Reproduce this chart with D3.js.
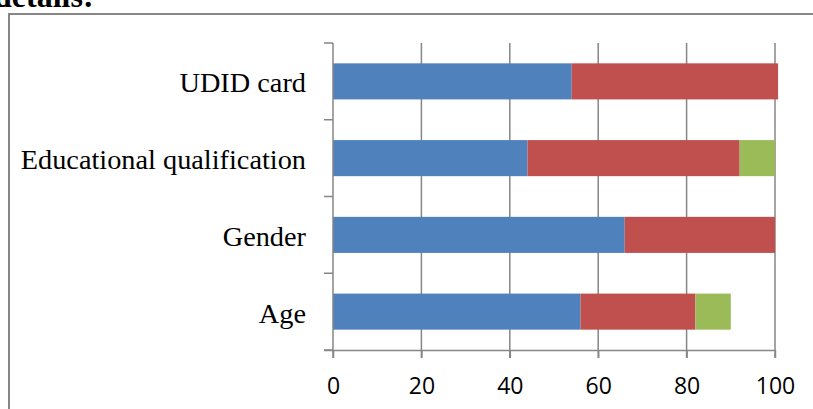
<!DOCTYPE html>
<html>
<head>
<meta charset="utf-8">
<script src="https://cdn.jsdelivr.net/npm/d3@7/dist/d3.min.js"></script>
<style>
  html, body { margin: 0; padding: 0; background: #fff; }
  svg { display: block; }
</style>
</head>
<body>
<svg id="chart" width="813" height="409"></svg>
<script>
// Categories listed bottom to top
const categories = ["Age", "Gender", "Educational qualification", "UDID card"];
// Stacked series (percent)
const seriesA = [56, 66, 44, 54];
const seriesB = [26, 34, 48, 46.7];
const seriesC = [8, 0, 8, 0];
const xTicks = [0, 20, 40, 60, 80, 100];

const colors = ["#4F81BD", "#C0504D", "#9BBB59"];
const gridColor = "#868686";

const svg = d3.select("#chart");

// Heading line above the chart frame (partly outside the page)
svg.append("text")
  .attr("x", -6).attr("y", 7)
  .attr("font-family", "'Liberation Serif', 'Times New Roman', serif")
  .attr("font-weight", "bold")
  .attr("font-size", 32)
  .attr("fill", "#000")
  .text("details:");

// Chart frame
svg.append("rect")
  .attr("x", 9).attr("y", 14)
  .attr("width", 840).attr("height", 440)
  .attr("fill", "none")
  .attr("stroke", "#878787")
  .attr("stroke-width", 2);

const plot = { left: 333, right: 775, top: 43, bottom: 350 };

const x = d3.scaleLinear().domain([0, 100]).range([plot.left, plot.right]);
const y = d3.scaleBand()
  .domain(categories)
  .range([plot.bottom, plot.top])
  .padding(0);

// Build stacked rows
const rows = categories.map((c, i) => ({ cat: c, a: seriesA[i], b: seriesB[i], c: seriesC[i] }));
const stack = d3.stack().keys(["a", "b", "c"]);
const stacked = stack(rows);

// Vertical gridlines with tick marks below the axis
const grid = svg.append("g");
grid.selectAll("line")
  .data(xTicks.slice(1))
  .join("line")
  .attr("x1", d => x(d)).attr("x2", d => x(d))
  .attr("y1", plot.top).attr("y2", plot.bottom + 8)
  .attr("stroke", gridColor).attr("stroke-width", 1.5);

// Bars
const barH = y.bandwidth() * 0.47;
svg.append("g").selectAll("g")
  .data(stacked)
  .join("g")
  .attr("fill", (d, i) => colors[i])
  .selectAll("rect")
  .data(d => d.filter(s => s[1] - s[0] > 0))
  .join("rect")
  .attr("x", d => x(d[0]))
  .attr("width", d => x(d[1]) - x(d[0]))
  .attr("y", d => y(d.data.cat) + (y.bandwidth() - barH) / 2)
  .attr("height", barH);

// X axis
const xAxis = d3.axisBottom(x).tickValues(xTicks).tickSize(8).tickFormat(d3.format("d"));
const gx = svg.append("g")
  .attr("transform", `translate(0,${plot.bottom})`)
  .call(xAxis);
gx.select(".domain").attr("stroke", gridColor).attr("stroke-width", 1.5)
  .attr("d", `M${plot.left - 9},0.5H${plot.right}`);
gx.selectAll(".tick line").attr("stroke", gridColor).attr("stroke-width", 1.5);
gx.selectAll(".tick text")
  .attr("y", 28)
  .attr("dy", "0.71em")
  .attr("fill", "#000")
  .attr("font-family", "'Open Sans', 'Liberation Sans', sans-serif")
  .attr("font-size", 23);

// Y axis: line plus ticks at category boundaries
const gy = svg.append("g");
gy.append("line")
  .attr("x1", plot.left).attr("x2", plot.left)
  .attr("y1", plot.top).attr("y2", plot.bottom + 8)
  .attr("stroke", gridColor).attr("stroke-width", 1.5);
const bounds = categories.map(c => y(c)).concat([plot.bottom]);
gy.selectAll("line.tk")
  .data(bounds)
  .join("line")
  .attr("class", "tk")
  .attr("x1", plot.left - 9).attr("x2", plot.left)
  .attr("y1", d => d).attr("y2", d => d)
  .attr("stroke", gridColor).attr("stroke-width", 1.5);

// Category labels
gy.selectAll("text")
  .data(categories)
  .join("text")
  .attr("x", 306)
  .attr("y", d => y(d) + y.bandwidth() / 2 + 11)
  .attr("text-anchor", "end")
  .attr("font-family", "'Liberation Serif', 'Times New Roman', serif")
  .attr("font-size", 28.3)
  .attr("fill", "#000")
  .text(d => d);
</script>
</body>
</html>
